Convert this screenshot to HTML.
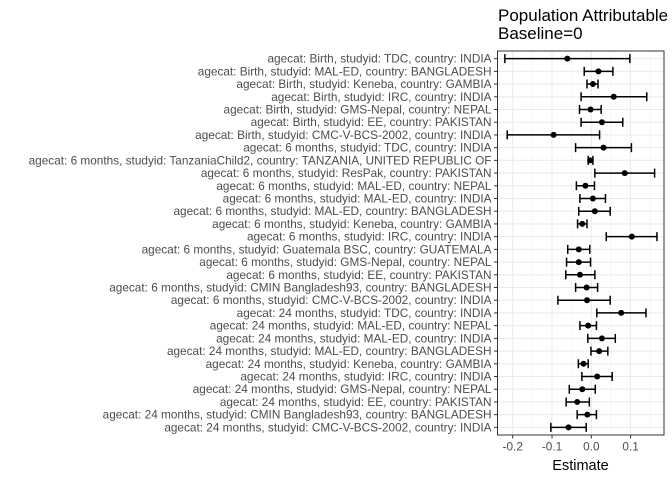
<!DOCTYPE html>
<html><head><meta charset="utf-8"><style>
html,body{margin:0;padding:0;background:#fff;}
svg{display:block;font-family:"Liberation Sans",sans-serif;}
</style></head><body>
<svg id="chart" width="672" height="480">
<text x="498" y="21" font-size="17" fill="#000">Population Attributable</text>
<text x="498" y="39" font-size="17" fill="#000">Baseline=0</text>
<g id="grid"></g><g id="marks"></g><g id="yaxis"></g><g id="xaxis"></g>
<rect x="497.5" y="51" width="166.5" height="384" fill="none" stroke="#333" stroke-width="1"/>
<text x="580.5" y="470" font-size="14.5" text-anchor="middle" fill="#000">Estimate</text>
</svg>
<script>
const labels = [
"agecat: Birth, studyid: TDC, country: INDIA",
"agecat: Birth, studyid: MAL-ED, country: BANGLADESH",
"agecat: Birth, studyid: Keneba, country: GAMBIA",
"agecat: Birth, studyid: IRC, country: INDIA",
"agecat: Birth, studyid: GMS-Nepal, country: NEPAL",
"agecat: Birth, studyid: EE, country: PAKISTAN",
"agecat: Birth, studyid: CMC-V-BCS-2002, country: INDIA",
"agecat: 6 months, studyid: TDC, country: INDIA",
"agecat: 6 months, studyid: TanzaniaChild2, country: TANZANIA, UNITED REPUBLIC OF",
"agecat: 6 months, studyid: ResPak, country: PAKISTAN",
"agecat: 6 months, studyid: MAL-ED, country: NEPAL",
"agecat: 6 months, studyid: MAL-ED, country: INDIA",
"agecat: 6 months, studyid: MAL-ED, country: BANGLADESH",
"agecat: 6 months, studyid: Keneba, country: GAMBIA",
"agecat: 6 months, studyid: IRC, country: INDIA",
"agecat: 6 months, studyid: Guatemala BSC, country: GUATEMALA",
"agecat: 6 months, studyid: GMS-Nepal, country: NEPAL",
"agecat: 6 months, studyid: EE, country: PAKISTAN",
"agecat: 6 months, studyid: CMIN Bangladesh93, country: BANGLADESH",
"agecat: 6 months, studyid: CMC-V-BCS-2002, country: INDIA",
"agecat: 24 months, studyid: TDC, country: INDIA",
"agecat: 24 months, studyid: MAL-ED, country: NEPAL",
"agecat: 24 months, studyid: MAL-ED, country: INDIA",
"agecat: 24 months, studyid: MAL-ED, country: BANGLADESH",
"agecat: 24 months, studyid: Keneba, country: GAMBIA",
"agecat: 24 months, studyid: IRC, country: INDIA",
"agecat: 24 months, studyid: GMS-Nepal, country: NEPAL",
"agecat: 24 months, studyid: EE, country: PAKISTAN",
"agecat: 24 months, studyid: CMIN Bangladesh93, country: BANGLADESH",
"agecat: 24 months, studyid: CMC-V-BCS-2002, country: INDIA"];
const estimates = [-0.061,0.018,0.004,0.057,-0.002,0.027,-0.096,0.031,-0.003,0.085,-0.015,0.004,0.009,-0.023,0.103,-0.032,-0.032,-0.029,-0.012,-0.011,0.076,-0.008,0.027,0.020,-0.020,0.015,-0.023,-0.036,-0.010,-0.058];
const lower = [-0.220,-0.018,-0.011,-0.026,-0.030,-0.026,-0.214,-0.040,-0.008,0.009,-0.038,-0.029,-0.032,-0.035,0.038,-0.060,-0.063,-0.065,-0.040,-0.085,0.014,-0.029,-0.009,-0.001,-0.033,-0.024,-0.056,-0.064,-0.036,-0.103];
const upper = [0.098,0.055,0.017,0.141,0.025,0.080,0.021,0.102,0.004,0.161,0.008,0.036,0.048,-0.011,0.167,-0.004,-0.002,0.009,0.016,0.048,0.139,0.013,0.061,0.042,-0.008,0.053,0.010,-0.005,0.013,-0.013];
const xTicks = [-0.2,-0.1,0.0,0.1];
const xTickLabels = ["-0.2","-0.1","0.0","0.1"];
const xMinor = [-0.15,-0.05,0.05,0.15];

const NS="http://www.w3.org/2000/svg";
const X0=497.5,X1=664,Y0=51,Y1=435;
const DMIN=-0.2387,DMAX=0.1849;
const xs=v=>X0+(v-DMIN)/(DMAX-DMIN)*(X1-X0);
const n=labels.length;
const step=(Y1-Y0)/(n+0.2);
const ys=i=>Y0+step*0.6+i*step;
function mk(tag,attrs,parent){const e=document.createElementNS(NS,tag);for(const k in attrs)e.setAttribute(k,attrs[k]);document.getElementById(parent).appendChild(e);return e;}
mk('rect',{x:X0,y:Y0,width:X1-X0,height:Y1-Y0,fill:'#fff'},'grid');
xMinor.forEach(v=>{const l=mk('line',{x1:xs(v),x2:xs(v),y1:Y0,y2:Y1,stroke:'#f0f0f0','stroke-width':0.6},'grid');

});
xTicks.forEach((v,i)=>{const l=mk('line',{x1:xs(v),x2:xs(v),y1:Y0,y2:Y1,stroke:'#ebebeb','stroke-width':1.1},'grid');


const t=mk('line',{x1:xs(v),x2:xs(v),y1:Y1,y2:Y1+3.5,stroke:'#333'},'xaxis');


const tx=mk('text',{x:xs(v),y:Y1+15.5,'font-size':11.8,'text-anchor':'middle',fill:'#4d4d4d'},'xaxis');
tx.textContent=xTickLabels[i];

});
labels.forEach((lab,i)=>{const y=ys(i);
const g=mk('line',{x1:X0,x2:X1,y1:y,y2:y,stroke:'#ebebeb','stroke-width':1.1},'grid');


const t=mk('line',{x1:X0-3.5,x2:X0,y1:y,y2:y,stroke:'#333'},'yaxis');


const tx=mk('text',{x:X0-6,y:y+4,'font-size':11.8,'text-anchor':'end',fill:'#4d4d4d'},'yaxis');
tx.textContent=lab;


const a=xs(lower[i]),b=xs(upper[i]);
const eb=mk('path',{d:`M${a},${y-4.5}V${y+4.5}M${a},${y}H${b}M${b},${y-4.5}V${y+4.5}`,stroke:'#000','stroke-width':1.5,fill:'none'},'marks');


const c=mk('circle',{cx:xs(estimates[i]),cy:y,r:3,fill:'#000'},'marks');

});
</script>
</body></html>
